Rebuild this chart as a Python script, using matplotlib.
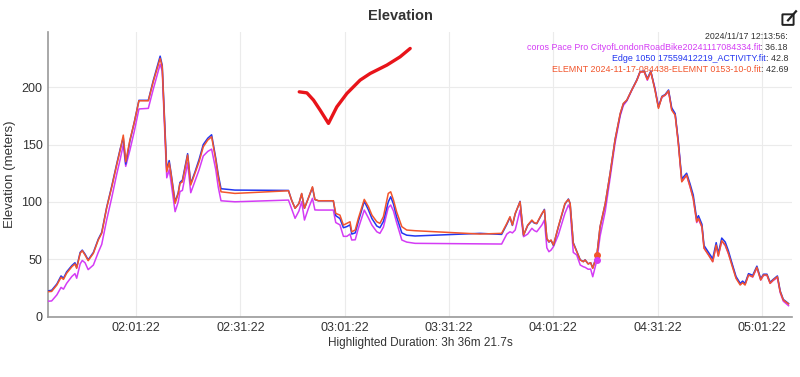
import matplotlib
matplotlib.use("Agg")
import matplotlib.pyplot as plt
from matplotlib.patches import FancyBboxPatch
from matplotlib.lines import Line2D

plt.rcParams['font.family'] = ['Liberation Sans', 'DejaVu Sans']

# time in minutes since midnight
t = [96.1, 97.1, 98.6, 99.8, 100.5, 101.4, 102.9, 103.8, 104.3, 105.3, 105.9, 106.7, 107.6, 109.1,
     110.5, 111.5, 112.9, 114.4, 115.8, 116.8, 117.7, 118.4, 119.6, 120.9, 122.2, 124.9, 126.3,
     128.3, 128.9, 129.7, 130.2, 130.9, 131.4, 132.6, 133.5, 134.0, 134.7, 136.2, 137.1, 138.3,
     139.5, 140.7, 142.0, 143.1, 144.3, 145.0, 145.8, 149.8, 165.2, 166.1, 167.1, 168.2, 169.0,
     169.8, 170.9, 172.1, 172.8, 173.8, 178.1, 178.8, 180.0, 181.0, 182.0, 182.9, 183.4, 184.4,
     185.3, 187.0, 188.2, 189.2, 190.6, 191.5, 192.5, 193.9, 194.6, 195.4, 196.3, 197.8, 199.2,
     201.6, 220.3, 226.5, 228.0, 228.9, 229.6, 230.4, 231.8, 232.8, 234.0, 235.2, 235.9, 236.6,
     238.1, 238.8, 239.5, 240.1, 240.7, 241.4, 242.8, 244.7, 245.7, 246.2, 247.1, 248.1, 249.1,
     250.0, 250.5, 251.4, 252.1, 252.7, 253.9, 254.8, 256.3, 257.7, 259.1, 260.6, 261.5, 262.5,
     263.9, 265.4, 266.3, 267.5, 268.4, 269.4, 270.6, 271.6, 272.6, 273.5, 274.5, 275.4, 276.4,
     277.3, 278.3, 279.7, 280.7, 281.6, 282.6, 283.1, 284.1, 284.7, 286.0, 287.2, 288.2, 288.8,
     289.8, 290.8, 291.7, 292.7, 293.9, 295.1, 295.8, 296.5, 297.5, 298.7, 299.9, 301.0, 301.8,
     302.8, 303.7, 304.6, 305.8, 306.6, 307.5, 309.0]

coros = [13.5, 13.7, 19, 25.5, 24, 29, 35, 37.5, 33.5, 46, 49, 47, 41, 45,
         56, 63, 84, 104, 124, 137, 150, 131, 145, 162, 181, 181.5, 198,
         220, 214, 155, 121, 128, 118, 91.5, 100, 109, 110, 134, 108, 118,
         128, 140, 144, 146, 128, 113, 101, 100.1, 101.6, 94, 85.7, 92, 100.1,
         84.2, 94, 103.1, 93, 92.9, 92.9, 82, 80, 70, 70, 72, 66.8, 67,
         77, 92.9, 86, 79.8, 74, 72.6, 78, 95, 97.3, 92, 82, 66.8, 65,
         63.9, 63.5, 63.3, 72, 74, 73, 75.5, 92.9, 69.7, 72, 77, 75, 74,
         80, 84.2, 60, 56.6, 58, 61, 71.1, 90, 97.3, 94, 56, 53.7, 45,
         43.5, 43, 41.3, 41.5, 34.8, 49.4, 70, 92, 121, 151, 175, 184, 188,
         197, 206, 213, 213.5, 206, 213, 199, 183, 191, 193, 196, 181, 176,
         152, 118, 123, 113, 103, 82, 85, 78, 60, 54, 48, 62, 53,
         66, 62, 55, 46, 34, 28.5, 30, 28, 36.5, 34.5, 42.5, 32, 36,
         36, 29, 31.5, 34, 21, 13.5, 9.6]

edge = [22.5, 23, 28.5, 35.5, 33.5, 39, 44.5, 47, 43, 56, 58, 54.5, 49.5, 56,
        67.5, 73.5, 95, 114, 133, 146, 156, 133, 153, 170, 188.5, 188.5, 205.5,
        227, 219, 162, 128, 136, 126, 100, 108, 117, 119, 142, 116, 126,
        137, 150, 155.5, 158.5, 138, 124, 111.5, 110.3, 110, 101.5, 94.5, 98.5, 107,
        94.5, 103, 112.5, 102, 101, 101, 88, 85.5, 77.5, 78.5, 80, 72, 73,
        83, 100.5, 93, 85.5, 79, 77.5, 83, 100, 104.5, 98, 87, 73, 71,
        70.3, 72.6, 71.7, 80.5, 86.5, 79.5, 89.5, 100.5, 71, 79.5, 83.5, 81.5, 81,
        89.5, 93.5, 68, 65, 66.5, 62, 78, 98, 102.5, 98.5, 64.5, 57, 49.5,
        48, 49.5, 46, 47, 42.5, 54, 78, 98.5, 125, 154, 176.5, 185.5, 188.5,
        197.5, 206.5, 213.5, 214, 207.5, 214, 198, 182.5, 192, 193.5, 197.5, 182, 177,
        153, 120, 125, 115.5, 106, 85, 88, 80.5, 62, 56, 50.5, 64.5, 55,
        68.5, 65, 57.5, 47, 35, 29, 31, 29, 37.5, 36, 44, 33, 37,
        37, 30, 32.5, 35.5, 22.5, 15, 11.5]

elemnt = [21.8, 22, 27.6, 34.3, 32.5, 37.8, 43.5, 45.9, 42.1, 55.2, 57.5, 53.7, 48.8, 55.2,
          66.8, 72.6, 94.4, 113.2, 132.1, 145.1, 158.2, 135, 153.9, 169.8, 188.1, 188.1, 204.6,
          225, 217.7, 159.7, 126.3, 134.1, 124.9, 98.7, 107.4, 116.1, 117.5, 140.8, 114.7, 124.9,
          135, 148, 153.9, 156.7, 136.4, 121.9, 108.8, 107.4, 109.7, 101.6, 94.4, 98.7, 107.4,
          94.4, 103.1, 113.2, 102.2, 101, 101, 90, 88.5, 79.8, 81.3, 82.7, 74, 75.5,
          85.7, 102.2, 95.8, 88.5, 82.7, 81.3, 87.1, 107.4, 108.8, 101.6, 91.4, 78.4, 75.5,
          74.9, 72, 72.6, 81.3, 87.1, 79.8, 90, 100.1, 71.1, 79.8, 84.2, 81.8, 81.3,
          90, 92.9, 68.3, 65.3, 66.8, 62.4, 78.4, 98.7, 102.2, 98.7, 63.9, 56.6, 49.4,
          47.9, 49.4, 45.9, 47, 42.1, 53.7, 78.4, 98.7, 124.9, 153.9, 177.1, 185.8, 188.7,
          197.4, 206.1, 213.3, 213.3, 206.7, 213.3, 197.4, 181.5, 191.6, 193, 196.8, 180, 175.6,
          151, 117.5, 123.4, 113.2, 103, 82.7, 85.7, 78.4, 59.6, 53.7, 47.9, 62.4, 52.8,
          66.2, 62.4, 55.2, 45, 33.4, 27.6, 29.6, 27.6, 36.3, 34.8, 43, 32, 36.3,
          36.3, 29.1, 32, 34.8, 21.8, 14.5, 11.1]

names = ['coros Pace Pro CityofLondonRoadBike20241117084334.fit',
         'Edge 1050 17559412219_ACTIVITY.fit',
         'ELEMNT 2024-11-17-084438-ELEMNT 0153-10-0.fit']
hover_values = ['36.18', '42.8', '42.69']
colours = ['#d43cf5', '#2236f0', '#f2552c']
highlight_idx = 110  # 252.7 min

ticks = [121.367, 151.367, 181.367, 211.367, 241.367, 271.367, 301.367]
tick_labels = ['02:01:22', '02:31:22', '03:01:22', '03:31:22', '04:01:22', '04:31:22', '05:01:22']

# hand drawn check mark (data coords)
check_t = [168.3, 170.5, 172.4, 174.3, 176.7, 179.1, 182.0, 185.8, 188.7, 193.5, 197.3, 200.2]
check_e = [195.9, 195.0, 188.7, 180.0, 168.4, 182.8, 194.5, 206.1, 211.9, 219.2, 226.4, 233.7]

fig = plt.figure(figsize=(8, 3.77), dpi=100)
ax = fig.add_axes([0.06, 0.16, 0.93, 0.755])

for series, c in zip([coros, edge, elemnt], colours):
    ax.plot(t, series, color=c, lw=1.1, zorder=3)
ax.plot(t[highlight_idx], elemnt[highlight_idx], 'o', color=colours[2], ms=4, zorder=4)
ax.plot(t[highlight_idx], coros[highlight_idx], 'o', color=colours[0], ms=4, zorder=4)

ax.plot(check_t, check_e, color='#e8141a', lw=2.4, solid_capstyle='round', zorder=5)

ax.set_xlim(96.05, 310.0)
ax.set_ylim(0, 248)
ax.set_yticks([0, 50, 100, 150, 200])
ax.set_xticks(ticks)
ax.set_xticklabels(tick_labels)
ax.tick_params(length=0, labelsize=9, colors='#333333', pad=4)
ax.grid(True, color='#ebebeb', lw=0.8)
ax.set_axisbelow(True)
for s in ['top', 'right']:
    ax.spines[s].set_visible(False)
for s in ['left', 'bottom']:
    ax.spines[s].set_color('#999999')
    ax.spines[s].set_linewidth(1.2)
ax.set_ylabel('Elevation (meters)', fontsize=9.5, color='#333333', labelpad=4)
ax.set_xlabel('Highlighted Duration: 3h 36m 21.7s', fontsize=8.5, color='#333333', labelpad=2)

fig.text(0.5, 0.957, 'Elevation', ha='center', va='center', fontsize=10.5,
         fontweight='bold', color='#333333')

# edit icon
icon = FancyBboxPatch((0.979, 0.935), 0.012, 0.026, boxstyle='round,pad=0.001',
                      transform=fig.transFigure, fill=False, ec='#222222', lw=1.4)
fig.add_artist(icon)
fig.add_artist(Line2D([0.985, 0.995], [0.946, 0.97], transform=fig.transFigure,
                      color='#222222', lw=1.6))

# hover legend
fig.text(0.985, 0.902, '2024/11/17 12:13:56:', ha='right', va='center', fontsize=6.3,
         color='#333333')
fig.canvas.draw()
renderer = fig.canvas.get_renderer()
for i, (name, val, c) in enumerate(zip(names, hover_values, colours)):
    y = 0.873 - i * 0.029
    vt = fig.text(0.985, y, ': ' + val, ha='right', va='center', fontsize=6.4, color='#333333')
    bb = vt.get_window_extent(renderer=renderer)
    x_left = fig.transFigure.inverted().transform((bb.x0, 0))[0]
    fig.text(x_left, y, name, ha='right', va='center', fontsize=6.4, color=c)

fig.savefig('out.png', dpi=100)
